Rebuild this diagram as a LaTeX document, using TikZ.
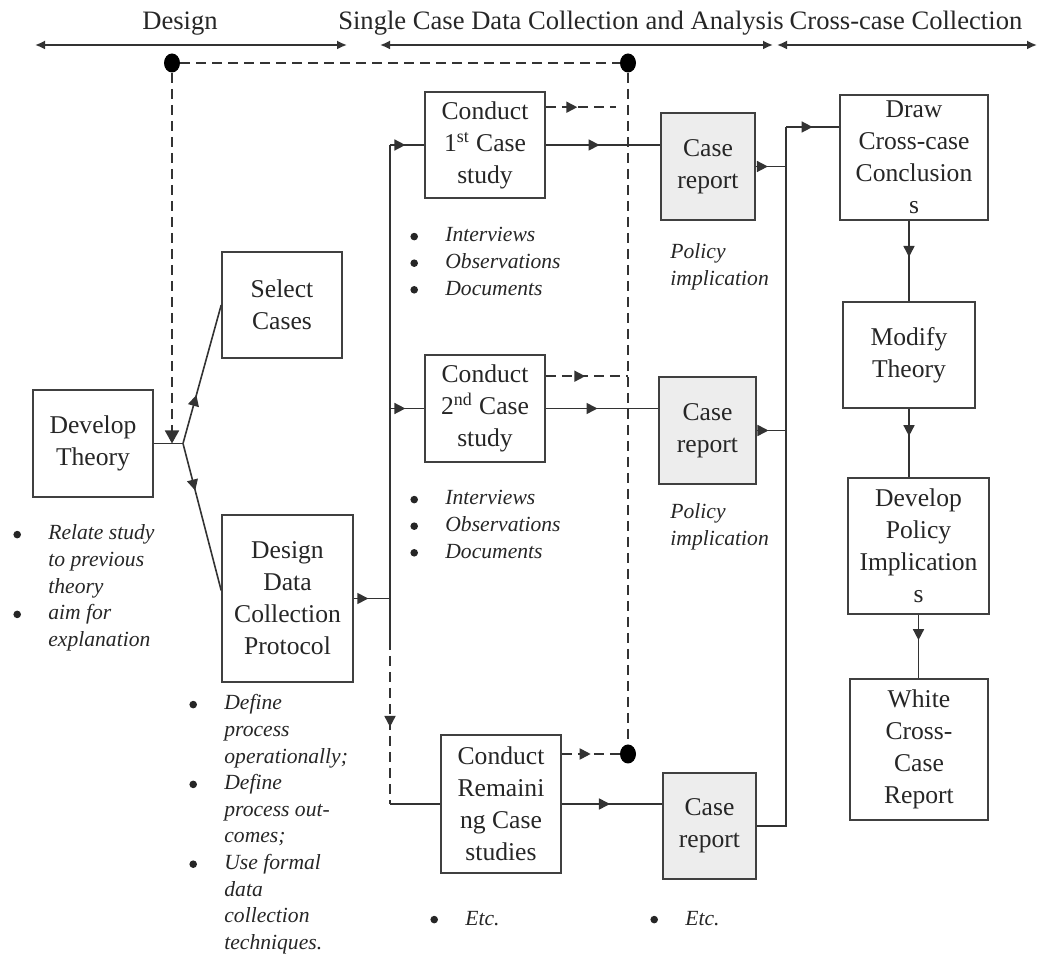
\documentclass[tikz,border=0pt]{standalone}
\usepackage{fontspec}
\setmainfont{Liberation Serif}
\usetikzlibrary{arrows.meta,calc,decorations.markings,shapes.geometric}

\newcommand{\listdot}{\tikz[baseline=-2.7pt]\fill[black!85] (0,0) circle (1.9pt);}
\newcommand{\itemlist}[1]{\begin{tabular}[t]{@{}p{17.5pt}@{}l@{}}#1\end{tabular}}

\begin{document}
\begin{tikzpicture}[
    x=0.5pt,
    y=-0.5pt,
    every node/.style={
        text=black!85,
        align=center
    },
    stagebox/.style={
        draw=black!75,
        line width=0.8pt,
        fill=white,
        inner sep=1pt,
        font=\fontsize{12.8}{16}\selectfont
    },
    reportbox/.style={
        stagebox,
        fill=black!7
    },
    notelist/.style={
        anchor=base west,
        inner sep=0pt,
        align=left,
        font=\fontsize{10.8}{13.3}\selectfont\itshape
    },
    phase/.style={
        anchor=base,
        font=\fontsize{13.3}{15}\selectfont
    },
    dot/.style={
        ellipse,
        fill=black,
        inner sep=0pt,
        minimum width=8pt,
        minimum height=9.5pt
    },
    line/.style={
        draw=black!80,
        line width=0.8pt
    },
    dashline/.style={
        draw=black!80,
        line width=0.9pt,
        dash pattern=on 5pt off 3pt
    },
    span/.style={
        draw=black!80,
        line width=0.9pt,
        {Latex[length=5pt,width=4.5pt]}-{Latex[length=5pt,width=4.5pt]}
    },
    midarrow/.style={
        postaction={decorate},
        decoration={
            markings,
            mark=at position #1 with {\arrow{Triangle[length=5.5pt,width=5.5pt]}}
        }
    }
]

\useasboundingbox (0,0) rectangle (1045,956);

% phases along the top
\node[phase] (designphase) at (180,30) {Design};
\node[phase] (singlephase) at (561,30) {Single Case Data Collection and Analysis};
\node[phase] (crossphase) at (906,30) {Cross-case Collection};

\coordinate (designstart) at (35,45);
\coordinate (designend) at (347,45);
\coordinate (singlestart) at (380,45);
\coordinate (singleend) at (773,45);
\coordinate (crossstart) at (777,45);
\coordinate (crossend) at (1037,45);

\draw[span] (designstart) -- (designend);
\draw[span] (singlestart) -- (singleend);
\draw[span] (crossstart) -- (crossend);

% design
\node[stagebox, minimum width=60pt, minimum height=53.5pt] (theory) at (93,443.5) {
    Develop\\Theory
};

\node[stagebox, minimum width=60pt, minimum height=53pt] (select) at (282,305) {
    Select\\Cases
};

\node[stagebox, minimum width=65.5pt, minimum height=83.5pt] (protocol) at (287.5,598.5) {
    Design\\Data\\Collection\\Protocol
};

\node[notelist] (theorynotes) at (13,540) {
    \itemlist{\listdot & Relate study\\ & to previous\\ & theory\\ \listdot & aim for\\ & explanation}
};

\node[notelist] (protocolnotes) at (189,710) {
    \itemlist{\listdot & Define\\ & process\\ & operationally;\\ \listdot & Define\\ & process out-\\ & comes;\\ \listdot & Use formal\\ & data\\ & collection\\ & techniques.}
};

% single case studies
\node[stagebox, minimum width=60pt, minimum height=53pt] (first) at (485,145) {
    Conduct\\1\textsuperscript{st} Case\\study
};

\node[stagebox, minimum width=60pt, minimum height=53.5pt] (second) at (485,408.5) {
    Conduct\\2\textsuperscript{nd} Case\\study
};

\node[stagebox, minimum width=60pt, minimum height=69pt] (remaining) at (501,804) {
    Conduct\\Remaini\\ng Case\\studies
};

\node[reportbox, minimum width=47pt, minimum height=53.5pt] (report1) at (708,166.5) {
    Case\\report
};

\node[reportbox, minimum width=48.5pt, minimum height=53.5pt] (report2) at (707.5,430.5) {
    Case\\report
};

\node[reportbox, minimum width=46.5pt, minimum height=53pt] (report3) at (709.5,826) {
    Case\\report
};

\node[notelist] (firstnotes) at (410,242) {
    \itemlist{\listdot & Interviews\\ \listdot & Observations\\ \listdot & Documents}
};

\node[notelist] (secondnotes) at (410,505) {
    \itemlist{\listdot & Interviews\\ \listdot & Observations\\ \listdot & Documents}
};

\node[notelist] (remainingnotes) at (430,925) {
    \itemlist{\listdot & Etc.}
};

\node[notelist] (report3notes) at (650,925) {
    \itemlist{\listdot & Etc.}
};

\node[notelist] (policy1) at (670,259) {
    \begin{tabular}[t]{@{}l@{}}Policy\\implication\end{tabular}
};

\node[notelist] (policy2) at (670,519) {
    \begin{tabular}[t]{@{}l@{}}Policy\\implication\end{tabular}
};

% cross-case
\node[stagebox, minimum width=74pt, minimum height=62.5pt] (conclude) at (914,157.5) {
    Draw\\Cross-case\\Conclusion\\s
};

\node[stagebox, minimum width=66pt, minimum height=53pt] (modify) at (909,355) {
    Modify\\Theory
};

\node[stagebox, minimum width=70.5pt, minimum height=68pt] (implications) at (918.5,546) {
    Develop\\Policy\\Implication\\s
};

\node[stagebox, minimum width=69pt, minimum height=70.5pt] (writereport) at (919,749.5) {
    White\\Cross-\\Case\\Report
};

% feedback loop
\node[dot] (dotleft) at (172,63) {};
\node[dot] (dotright) at (628,63) {};
\node[dot] (dotbottom) at (628,754) {};

\coordinate (junction) at (183,443.5);
\coordinate (busleft) at (390,598.5);
\coordinate (busbreak) at (390,640);
\coordinate (busright) at (786,127);

\draw[dashline] (dotleft) -- (dotright);
\draw[dashline] (dotright) -- (dotbottom);
\draw[dashline, -{Triangle[length=6.5pt,width=7pt]}] (dotleft) -- (dotleft |- junction);

% design links
\draw[line] (theory.east) -- (junction);
\draw[line, midarrow=0.35] (junction) -- (select.west);
\draw[line, midarrow=0.32] (junction) -- ([yshift=4pt]protocol.west);
\draw[line, midarrow=0.4] (protocol.east) -- (busleft);

% left bus
\draw[line] (busleft |- first.west) -- (busbreak);
\draw[dashline, midarrow=0.53] (busbreak) -- (busleft |- remaining.west);
\draw[line] (busleft |- remaining.west) -- (remaining.west);
\draw[line, midarrow=0.45] (busleft |- first.west) -- (first.west);
\draw[line, midarrow=0.45] (busleft |- second.west) -- (second.west);

% studies to reports
\draw[line, midarrow=0.47] (first.east) -- (first.east -| report1.west);
\draw[line, midarrow=0.46] (second.east) -- (second.east -| report2.west);
\draw[line, midarrow=0.48] (remaining.east) -- (remaining.east -| report3.west);

\coordinate (firstdash) at ($(first.north east)+(0,16)$);
\coordinate (firstdashend) at ($(firstdash)+(70,0)$);
\coordinate (seconddash) at ($(second.north east)+(0,22)$);

\draw[dashline, midarrow=0.45] (firstdash) -- (firstdashend);
\draw[dashline, midarrow=0.48] (seconddash) -- (seconddash -| dotright);
\draw[dashline, midarrow=0.5] (remaining.east |- dotbottom) -- (dotbottom.west);

% right bus
\draw[line, midarrow=0.4] (report1.east) -- (report1.east -| busright);
\draw[line, midarrow=0.4] (report2.east) -- (report2.east -| busright);
\draw[line] (report3.east) -| (busright);
\draw[line, midarrow=0.5] (busright) -- (busright -| conclude.west);

% cross-case chain
\draw[line, midarrow=0.45] (modify.north |- conclude.south) -- (modify.north);
\draw[line, midarrow=0.4] (modify.south) -- (modify.south |- implications.north);
\draw[line, midarrow=0.4] (implications.south) -- (implications.south |- writereport.north);

\end{tikzpicture}
\end{document}
